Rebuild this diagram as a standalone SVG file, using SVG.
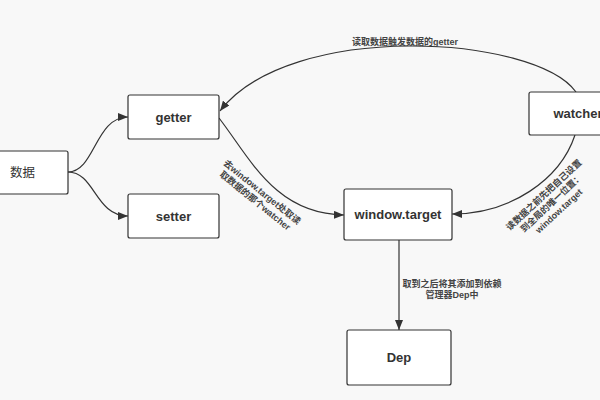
<svg xmlns="http://www.w3.org/2000/svg" width="600" height="400" viewBox="0 0 600 400">
<style>
.box{fill:#fff;stroke:#333;stroke-width:1.2}
.nt{font-family:"Liberation Sans","Noto Sans CJK SC",sans-serif;font-size:13px;font-weight:bold;fill:#333;text-anchor:middle}
.lbl{font-family:"Liberation Sans","Noto Sans CJK SC",sans-serif;font-size:9px;font-weight:bold;fill:#444;text-anchor:middle}
.c{fill:none;stroke:#333;stroke-width:1.2}
</style>
<defs>
<marker id="ah" viewBox="0 0 10 8" refX="10" refY="4" markerWidth="10" markerHeight="8" markerUnits="userSpaceOnUse" orient="auto">
<path d="M0,0 L10,4 L0,8 Z" fill="#333"/>
</marker>
</defs>
<rect width="600" height="400" fill="#f8f8f8"/>
<g id="connectors">
<path class="c" d="M68,172 C95,172 95,117 128,117" marker-end="url(#ah)"/>
<path class="c" d="M68,172 C95,172 95,216 128,216" marker-end="url(#ah)"/>
<path class="c" d="M576,92 C535,35 290,20 220,111" marker-end="url(#ah)"/>
<path class="c" d="M219,118 C250,158 275,214 344,215" marker-end="url(#ah)"/>
<path class="c" d="M575,135 C560,180 510,214 452,214" marker-end="url(#ah)"/>
<path class="c" d="M399,240 L399,330" marker-end="url(#ah)"/>
<text class="lbl" x="405" y="45">读取数据触发数据的getter</text>
<g transform="translate(258.5,196.5) rotate(39)">
<text class="lbl" x="0" y="-2.5">去window.target处取读</text>
<text class="lbl" x="0" y="8.5">取数据的那个watcher</text>
</g>
<g transform="translate(551.5,203) rotate(-43)">
<text class="lbl" x="0" y="-8">读数据之前先把自己设置</text>
<text class="lbl" x="0" y="3">到全局的唯一位置：</text>
<text class="lbl" x="0" y="14">window.target</text>
</g>
<text class="lbl" x="452" y="287">取到之后将其添加到依赖</text>
<text class="lbl" x="452" y="298">管理器Dep中</text>
</g>
<g id="data">
<rect class="box" x="-23" y="151" width="91" height="43" rx="2"/>
<text class="nt" x="22.5" y="177" style="font-weight:normal;font-size:12.5px">数据</text>
</g>
<g id="getter">
<rect class="box" x="128" y="95" width="91" height="44" rx="2"/>
<text class="nt" x="173.5" y="122">getter</text>
</g>
<g id="setter">
<rect class="box" x="128" y="194" width="91" height="44" rx="2"/>
<text class="nt" x="173.5" y="221">setter</text>
</g>
<g id="watcher">
<rect class="box" x="529" y="92" width="95" height="43" rx="2"/>
<text class="nt" x="578" y="118">watcher</text>
</g>
<g id="window-target">
<rect class="box" x="344" y="189" width="108" height="51" rx="2"/>
<text class="nt" x="398" y="219">window.target</text>
</g>
<g id="dep">
<rect class="box" x="347" y="330" width="104" height="55" rx="2"/>
<text class="nt" x="399" y="362">Dep</text>
</g>
</svg>
